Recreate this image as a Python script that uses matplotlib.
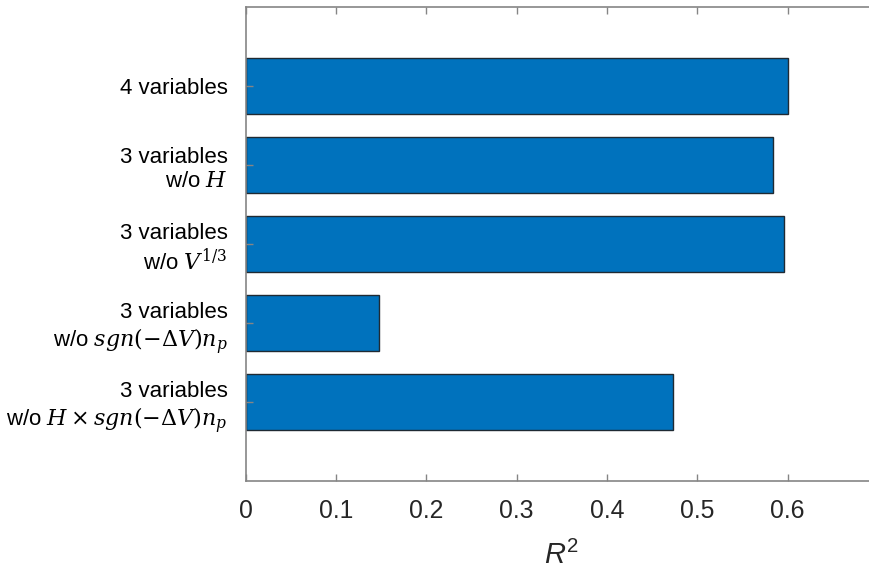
import numpy as np
import matplotlib
matplotlib.use('Agg')
import matplotlib.pyplot as plt

# data (top to bottom)
labels = ['4 variables',
          '3 variables\nw/o $H$',
          '3 variables\nw/o $V^{1/3}$',
          '3 variables\nw/o $sgn(-\\Delta V)n_p$',
          '3 variables\nw/o $H \\times sgn(-\\Delta V)n_p$']
r2 = [0.600, 0.584, 0.596, 0.148, 0.473]
xticks = [0, 0.1, 0.2, 0.3, 0.4, 0.5, 0.6]

plt.rcParams['font.family'] = ['Liberation Sans', 'DejaVu Sans']
plt.rcParams['mathtext.fontset'] = 'custom'
plt.rcParams['mathtext.rm'] = 'Liberation Sans'
plt.rcParams['mathtext.it'] = 'Liberation Sans:italic'

fig = plt.figure(figsize=(8.7, 5.71), dpi=100)
ax = fig.add_axes([0.2824, 0.1576, 0.7266, 0.830])

pos = np.arange(1, len(r2) + 1)
ax.barh(pos, r2, height=0.7, color='#0072BD', edgecolor='#1f2a33', linewidth=1.0)

ax.set_xlim(0, 0.7)
ax.set_ylim(len(r2) + 1, 0)
ax.set_xticks(xticks)
ax.set_xticklabels(['0' if v == 0 else '%.1f' % v for v in xticks])
ax.set_yticks(pos)
ax.set_yticklabels(labels, math_fontfamily='dejavuserif')

for s in ['left', 'top', 'bottom']:
    ax.spines[s].set_color('#858585')
    ax.spines[s].set_linewidth(1.2)
ax.spines['right'].set_visible(False)

ax.tick_params(axis='x', direction='in', length=5, width=1, color='#858585',
               top=True, labelsize=17.8, pad=13, labelcolor='#262626')
ax.tick_params(axis='y', direction='in', length=5, width=1, color='#858585',
               labelsize=16, pad=13, labelcolor='#000000')

ax.set_xlabel('$R^2$', fontsize=21, labelpad=13, color='#262626')

fig.savefig('out.png', dpi=100)
